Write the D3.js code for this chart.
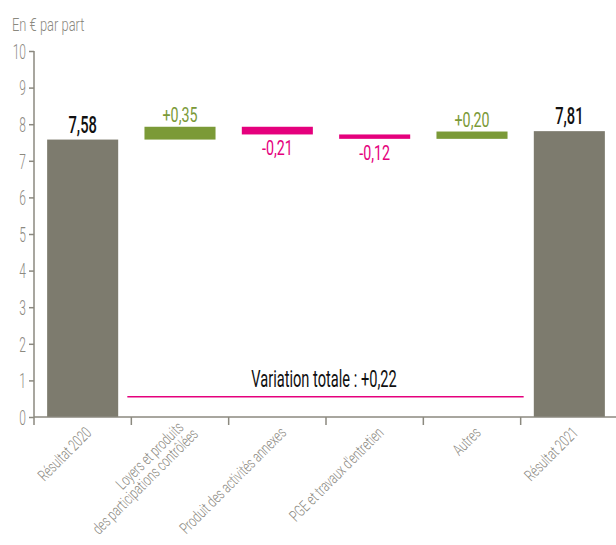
<!DOCTYPE html>
<html>
<head>
<meta charset="utf-8">
<script src="https://cdn.jsdelivr.net/npm/d3@7"></script>
<style>
  body { margin: 0; background: #fff; }
  svg text { font-family: "Roboto", "Liberation Sans", sans-serif; }
</style>
</head>
<body>
<div class="grafic"></div>
<script>
// données
let categories = ["Résultat 2020", "Loyers et produits|des participations contrôlées", "Produit des activités annexes",
                  "PGE et travaux d'entretien", "Autres", "Résultat 2021"];
let kinds = ["total", "delta", "delta", "delta", "delta", "total"];
let values = [7.58, 0.35, -0.21, -0.12, 0.20, 7.81];
let valueLabels = ["7,58", "+0,35", "-0,21", "-0,12", "+0,20", "7,81"];
let yTicks = [0, 1, 2, 3, 4, 5, 6, 7, 8, 9, 10];
let variationValue = 0.55;
let variationText = "Variation totale : +0,22";

let w = 616, h = 545;
let gray = "#7d7b6e", axisColor = "#8b897f", green = "#7b9a37", pink = "#e5007d";

let svg = d3.select(".grafic").append("svg")
    .attr("width", w)
    .attr("height", h);

let xScale = d3.scaleBand()
    .domain(categories)
    .range([34, 618])
    .paddingInner(0.27)
    .paddingOuter(0.135);

let yScale = d3.scaleLinear()
    .domain([0, 10])
    .range([417, 51]);

// calcul des barres (cascade)
let bars = [];
let running = 0;
for (let i = 0; i < categories.length; i++) {
    let y0, y1;
    if (kinds[i] == "total") {
        y0 = 0; y1 = values[i]; running = values[i];
    } else {
        y0 = running; y1 = running + values[i]; running = y1;
    }
    bars.push({ cat: categories[i], lo: Math.min(y0, y1), hi: Math.max(y0, y1), v: values[i], kind: kinds[i], label: valueLabels[i] });
}

let colorOf = function (d) {
    if (d.kind == "total") return gray;
    return d.v >= 0 ? green : pink;
};

svg.selectAll("rect.bar")
    .data(bars)
    .enter()
    .append("rect")
    .attr("class", "bar")
    .attr("x", d => xScale(d.cat))
    .attr("width", xScale.bandwidth())
    .attr("y", d => yScale(d.hi))
    .attr("height", d => yScale(d.lo) - yScale(d.hi))
    .attr("fill", colorOf);

// étiquettes de valeurs (police étroite simulée avec scale)
svg.selectAll("text.val")
    .data(bars)
    .enter()
    .append("text")
    .attr("class", "val")
    .attr("transform", d => {
        let x = xScale(d.cat) + xScale.bandwidth() / 2;
        let y = d.v >= 0 ? yScale(d.hi) - (d.kind == "total" ? 7 : 5) : yScale(d.lo) + 21;
        let s = d.kind == "total" ? 0.64 : 0.68;
        return "translate(" + x + "," + y + ") scale(" + s + ",1)";
    })
    .attr("text-anchor", "middle")
    .attr("font-size", d => d.kind == "total" ? 23 : 21)
    .attr("font-weight", d => d.kind == "total" ? 500 : 400)
    .attr("fill", d => d.kind == "total" ? "#111" : colorOf(d))
    .text(d => d.label);

// axe Y
let yAxis = d3.axisLeft(yScale).tickValues(yTicks).tickSize(5).tickPadding(4).tickFormat(d3.format("d"));
let gy = svg.append("g")
    .attr("transform", "translate(34,0)")
    .call(yAxis);
gy.select(".domain").remove();
gy.selectAll("line").attr("stroke", axisColor).attr("stroke-width", 1.5);
gy.selectAll("text")
    .attr("fill", "#8b897f")
    .attr("font-size", 20)
    .attr("font-weight", 300)
    .attr("x", null)
    .attr("dy", "0.36em")
    .attr("transform", "translate(-8,0) scale(0.6,1)");
svg.append("line")
    .attr("x1", 34).attr("x2", 34)
    .attr("y1", yScale(10)).attr("y2", yScale(0) + 8)
    .attr("stroke", axisColor).attr("stroke-width", 1.5);

// axe X
svg.append("line")
    .attr("x1", 34).attr("x2", w)
    .attr("y1", yScale(0)).attr("y2", yScale(0))
    .attr("stroke", axisColor).attr("stroke-width", 1.5);

let step = xScale.step();
svg.selectAll("line.xtick")
    .data(categories.slice(0, categories.length - 1))
    .enter()
    .append("line")
    .attr("class", "xtick")
    .attr("x1", d => xScale(d) + xScale.bandwidth() + step * 0.135)
    .attr("x2", d => xScale(d) + xScale.bandwidth() + step * 0.135)
    .attr("y1", yScale(0)).attr("y2", yScale(0) + 8)
    .attr("stroke", axisColor).attr("stroke-width", 1.5);

let xl = svg.selectAll("text.xlab")
    .data(categories)
    .enter()
    .append("text")
    .attr("class", "xlab")
    .attr("transform", d => "translate(" + (xScale(d) + xScale.bandwidth() / 2 + 7) + "," + (yScale(0) + 14) + ") rotate(-45) scale(0.7,1)")
    .attr("text-anchor", "end")
    .attr("font-size", 16)
    .attr("font-weight", 300)
    .attr("fill", "#8b897f");
xl.each(function (d) {
    let parts = d.split("|");
    let t = d3.select(this);
    parts.forEach((p, i) => {
        t.append("tspan")
            .attr("x", i * 8)
            .attr("dy", i == 0 ? (-(parts.length - 1) * 15 * 0.5 + 4) : 15)
            .text(p);
    });
});

// titre
svg.append("text")
    .attr("transform", "translate(12,31) scale(0.68,1)")
    .attr("font-size", 19)
    .attr("font-weight", 300)
    .attr("fill", "#8b897f")
    .text("En € par part");

// variation totale
svg.append("line")
    .attr("x1", xScale(categories[1]) - step * 0.135 - 4)
    .attr("x2", xScale(categories[5]) - step * 0.135 + 3)
    .attr("y1", yScale(variationValue)).attr("y2", yScale(variationValue))
    .attr("stroke", pink).attr("stroke-width", 1.5);
svg.append("text")
    .attr("transform", "translate(" + ((xScale(categories[1]) + xScale(categories[5])) / 2 - step * 0.135 - 2) + ","
        + (yScale(variationValue) - 10) + ") scale(0.61,1)")
    .attr("text-anchor", "middle")
    .attr("font-size", 24)
    .attr("font-weight", 400)
    .attr("fill", "#111")
    .text(variationText);
</script>
</body>
</html>
